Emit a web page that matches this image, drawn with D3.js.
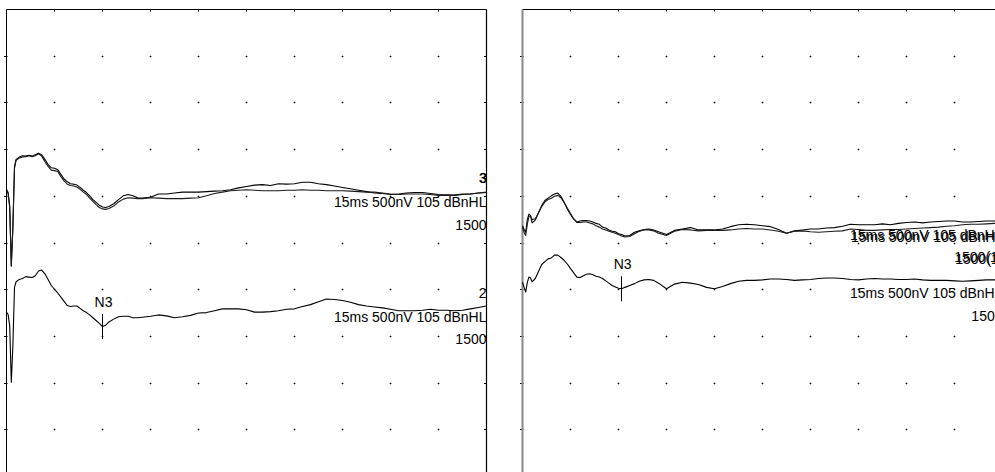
<!DOCTYPE html>
<html>
<head>
<meta charset="utf-8">
<script src="https://cdn.jsdelivr.net/npm/d3@7"></script>
<style>
  html, body { margin: 0; padding: 0; background: #fff; overflow: hidden; }
  text { font-family: "Liberation Sans", Arial, sans-serif; font-size: 14px; fill: #000; }
</style>
</head>
<body>
<div id="chart"></div>
<script>
const width = 995;
const height = 472;

// sample times (ms), shared by every trace
const times = [
  0, 0.05, 0.1, 0.15, 0.2, 0.25, 0.3,
  0.4, 0.5, 0.6, 0.7, 0.8, 0.9, 1.0, 1.1, 1.2, 1.3,
  1.4, 1.5, 1.6, 1.7, 1.8, 1.9, 2.0, 2.1, 2.2, 2.3,
  2.4, 2.5, 2.6, 2.7, 2.8, 2.9, 3.0, 3.1, 3.2,
  3.35, 3.5, 3.65, 3.8, 3.95, 4.1, 4.25,
  4.5, 4.75, 5, 5.25, 5.5, 5.75, 6, 6.25, 6.5, 6.75,
  7, 7.25, 7.5, 7.75, 8, 8.25, 8.5, 8.75, 9, 9.25,
  9.5, 9.75, 10, 10.25, 10.5, 10.75, 11, 11.25, 11.5, 11.75,
  12, 12.25, 12.5, 12.75, 13, 13.25, 13.5, 13.75, 14, 14.25,
  14.5, 14.75, 15
];

// amplitudes (nV) relative to each trace's baseline
// left panel, trace 3 (two runs) and trace 2
const left3a = [
  75, 40, -100, -740, -310, 320, 395,
  420, 435, 430, 440, 430, 445, 460, 445, 395, 340,
  305, 300, 285, 235, 185, 155, 135, 130, 120, 95,
  65, 40, 5, -35, -65, -95, -115, -120, -110,
  -80, -35, 5, 20, 5, -15, -20,
  -10, 25, 25, 35, 45, 45, 45, 50, 55, 60,
  70, 90, 105, 120, 125, 115, 135, 130, 135, 150,
  150, 135, 125, 110, 95, 80, 65, 50, 35, 30,
  20, 25, 35, 40, 40, 30, 20, 15, 10, 20,
  25, 35, 40
];
const left3b = [
  60, 30, -120, -750, -345, 300, 385,
  410, 420, 425, 435, 425, 435, 455, 430, 370, 320,
  280, 275, 265, 210, 165, 130, 115, 110, 100, 75,
  45, 20, -20, -55, -90, -120, -135, -140, -130,
  -105, -60, -30, -15, -20, -25, -25,
  -15, -20, -25, -25, -25, -20, -15, 5, 30, 45,
  60, 65, 70, 65, 60, 60, 60, 65, 65, 70,
  65, 65, 60, 60, 60, 55, 50, 45, 45, 35,
  25, 20, 25, 25, 25, 20, 10, 10, 15, 25,
  25, 35, 45
];
const left2 = [
  -15, -40, -160, -765, -370, 250, 310,
  335, 345, 365, 360, 355, 375, 425, 435, 395, 335,
  270, 230, 190, 145, 100, 55, 45, 50, 50, 25,
  0, -20, -45, -75, -105, -135, -170, -155, -120,
  -90, -65, -60, -60, -75, -75, -70,
  -60, -45, -55, -75, -65, -50, -25, -20, 0, 20,
  20, 20, 10, -15, -15, -10, 0, 15, 20, 45,
  65, 95, 125, 120, 110, 90, 65, 50, 40, 30,
  15, 0, 0, 0, 5, 15, 5, 5, 0, 5,
  20, 35, 50
];

// right panel, upper pair and lower trace
const right3a = [
  35, -5, -35, 100, 160, 145, 65,
  95, 175, 250, 305, 330, 355, 375, 385, 350, 285,
  215, 155, 105, 75, 85, 90, 90, 85, 75, 60,
  50, 20, 10, -10, -25, -30, -50, -60, -75,
  -70, -35, -20, -5, 0, -10, -30,
  -60, -15, 0, 15, -10, -10, -10, 0, 25, 45,
  50, 45, 35, 25, -5, -45, -20, -10, 0, 0,
  10, 15, 30, 50, 45, 45, 45, 55, 45, 60,
  70, 75, 65, 75, 80, 85, 85, 75, 75, 80,
  85, 85, 85
];
const right3b = [
  15, -35, -70, 50, 135, 140, 100,
  110, 170, 240, 290, 315, 330, 350, 360, 335, 285,
  225, 165, 110, 70, 70, 75, 75, 65, 55, 35,
  20, 0, -10, -25, -35, -45, -60, -75, -85,
  -80, -50, -25, -10, -10, -20, -45,
  -70, -25, -5, -10, -20, -15, -15, -15, -10, 0,
  5, 0, 0, -10, -25, -45, -25, -20, -30, -35,
  -30, -25, -20, 0, -5, -15, -15, -10, -5, -5,
  0, 5, 10, 15, 20, 30, 35, 45, 50, 50,
  55, 60, 60
];
const right2 = [
  55, 0, -50, 50, 110, 100, 60,
  95, 170, 245, 275, 305, 315, 345, 345, 320, 290,
  250, 200, 155, 110, 105, 125, 140, 145, 135, 120,
  110, 95, 70, 45, 20, 5, -10, -15, 0,
  20, 40, 65, 80, 85, 75, 45,
  -15, 35, 55, 45, 30, 0, -15, 10, 40, 65,
  75, 75, 80, 90, 90, 85, 75, 80, 85, 95,
  100, 100, 95, 85, 80, 90, 95, 90, 90, 85,
  85, 90, 80, 75, 75, 75, 70, 65, 70, 75,
  80, 80, 85
];

const sweepMs = 15;
const msPerDiv = 1.5;
const nvPerDiv = 500;
const divisions = 10;
const traceInfo = "15ms 500nV 105 dBnHL";

const panels = [
  {
    x0: 6.5, edgeColor: "#000", edgeWidth: 1,
    traces: [
      { runs: [left3a, left3b], baseline: -2000, num: "3", rate: "1500", numCopies: [[0, 0], [0.8, 0]], textCopies: [[0, 0]] },
      { runs: [left2], baseline: -3225, num: "2", rate: "1500", peak: 3.0, numCopies: [[0, 0]], textCopies: [[0, 0]] }
    ]
  },
  {
    x0: 522.5, edgeColor: "#8a8a8a", edgeWidth: 2,
    traces: [
      { runs: [right3a, right3b], baseline: -2350, num: "3", rate: "1500(1)", numCopies: [[0, 0], [1, 2]], textCopies: [[0, 0], [1, 2]] },
      { runs: [right2], baseline: -2975, num: "2", rate: "1500", peak: 3.1, numCopies: [[0, 0]], textCopies: [[0, 0]] }
    ]
  }
];

const panelW = 480;
const frameTop = 9.5;
const panelH = 467;

const svg = d3.select("#chart")
  .append("svg")
  .attr("width", width)
  .attr("height", height)
  .style("display", "block");

svg.append("rect").attr("width", width).attr("height", height).attr("fill", "#fff");

const snap = v => Math.round(v - 0.5) + 0.5;

panels.forEach(p => {
  const x = d3.scaleLinear().domain([0, sweepMs]).range([p.x0, p.x0 + panelW]);
  const y = d3.scaleLinear().domain([0, -nvPerDiv * divisions]).range([frameTop, frameTop + panelH]);
  const g = svg.append("g");

  // grid dots
  const cols = d3.range(1, divisions).map(i => i * msPerDiv);
  const rows = d3.range(1, divisions).map(j => -j * nvPerDiv);
  const dots = [];
  cols.forEach(c => rows.forEach(r => dots.push([c, r])));
  g.selectAll("path.dot")
    .data(dots)
    .join("path")
    .attr("class", "dot")
    .attr("d", d => {
      const cx = snap(x(d[0]));
      const cy = snap(y(d[1]));
      return `M${cx - 1},${cy}h2M${cx},${cy - 1}v2`;
    })
    .attr("stroke", "#666")
    .attr("stroke-width", 1);
  g.selectAll("rect.dotc")
    .data(dots)
    .join("rect")
    .attr("class", "dotc")
    .attr("x", d => snap(x(d[0])) - 0.5)
    .attr("y", d => snap(y(d[1])) - 0.5)
    .attr("width", 1)
    .attr("height", 1)
    .attr("fill", "#000");

  // frame ticks
  g.selectAll("line.tickTop")
    .data(cols)
    .join("line")
    .attr("class", "tickTop")
    .attr("x1", d => snap(x(d)))
    .attr("x2", d => snap(x(d)))
    .attr("y1", frameTop)
    .attr("y2", frameTop + 2)
    .attr("stroke", "#000");
  g.selectAll("line.tickLeft")
    .data(rows)
    .join("line")
    .attr("class", "tickLeft")
    .attr("x1", x(0) - 2.5)
    .attr("x2", x(0) + 1)
    .attr("y1", d => snap(y(d)))
    .attr("y2", d => snap(y(d)))
    .attr("stroke", "#000");
  g.selectAll("line.tickRight")
    .data(rows)
    .join("line")
    .attr("class", "tickRight")
    .attr("x1", x(sweepMs) - 2.5)
    .attr("x2", x(sweepMs))
    .attr("y1", d => snap(y(d)))
    .attr("y2", d => snap(y(d)))
    .attr("stroke", "#000");

  // frame
  g.append("line")
    .attr("x1", x(0)).attr("x2", x(sweepMs))
    .attr("y1", frameTop).attr("y2", frameTop)
    .attr("stroke", "#000").attr("stroke-width", 1.2);
  g.append("line")
    .attr("x1", x(0)).attr("x2", x(0))
    .attr("y1", frameTop).attr("y2", frameTop + panelH)
    .attr("stroke", p.edgeColor).attr("stroke-width", p.edgeWidth);
  g.append("line")
    .attr("x1", x(sweepMs)).attr("x2", x(sweepMs))
    .attr("y1", frameTop).attr("y2", frameTop + panelH)
    .attr("stroke", "#000").attr("stroke-width", 1.2);

  p.traces.forEach(tr => {
    const line = d3.line()
      .x((d, i) => x(times[i]))
      .y(d => y(tr.baseline + d))
      .curve(d3.curveLinear);

    tr.runs.forEach((run, k) => {
      g.append("path")
        .datum(run)
        .attr("d", line)
        .attr("fill", "none")
        .attr("stroke", k === 0 ? "#000" : "#1a1a1a")
        .attr("stroke-width", 1.1)
        .attr("stroke-linejoin", "round");
    });

    const y0 = y(tr.baseline);
    tr.numCopies.forEach(([dx, dy]) => {
      g.append("text")
        .attr("x", x(sweepMs) + dx)
        .attr("y", y0 - 13 + dy)
        .attr("text-anchor", "end")
        .text(tr.num);
    });
    tr.textCopies.forEach(([dx, dy]) => {
      g.append("text")
        .attr("x", x(sweepMs) + dx)
        .attr("y", y0 + 11 + dy)
        .attr("text-anchor", "end")
        .text(traceInfo);
      g.append("text")
        .attr("x", x(sweepMs) + dx)
        .attr("y", y0 + 33.5 + dy)
        .attr("text-anchor", "end")
        .text(tr.rate);
    });

    // N3 marker
    if (tr.peak != null) {
      const i = times.indexOf(tr.peak);
      const px = x(tr.peak);
      const py = y(tr.baseline + tr.runs[0][i]);
      g.append("line")
        .attr("x1", snap(px)).attr("x2", snap(px))
        .attr("y1", py - 12.5).attr("y2", py + 12.5)
        .attr("stroke", "#000").attr("stroke-width", 1);
      g.append("text")
        .attr("x", px + 1)
        .attr("y", py - 20)
        .attr("text-anchor", "middle")
        .text("N3");
    }
  });
});
</script>
</body>
</html>
